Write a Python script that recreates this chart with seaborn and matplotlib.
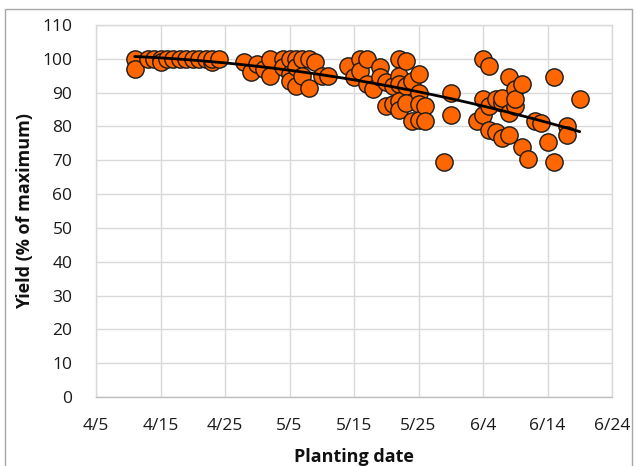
import numpy as np
import pandas as pd
import matplotlib
matplotlib.use("Agg")
import matplotlib.pyplot as plt
import seaborn as sns
from matplotlib.patches import Rectangle

# ---- data ----
plant_dates = [
    "4/11", "4/11", "4/13", "4/14", "4/15", "4/15", "4/16", "4/17", "4/18", "4/19",
    "4/20", "4/21", "4/22", "4/23", "4/23", "4/24",
    "4/28", "4/29", "4/30", "5/1", "5/2", "5/2",
    "5/4", "5/4", "5/5", "5/5", "5/5", "5/6", "5/6", "5/6",
    "5/7", "5/7", "5/8", "5/8", "5/9", "5/10", "5/11",
    "5/14", "5/15", "5/16", "5/16", "5/17", "5/17", "5/18",
    "5/19", "5/19", "5/20", "5/20", "5/21", "5/21",
    "5/22", "5/22", "5/22", "5/22", "5/22",
    "5/23", "5/23", "5/23", "5/24", "5/24",
    "5/25", "5/25", "5/25", "5/25", "5/26", "5/26",
    "5/29", "5/30", "5/30", "6/3",
    "6/4", "6/4", "6/4", "6/5", "6/5", "6/5", "6/6", "6/6",
    "6/7", "6/7", "6/7", "6/8", "6/8", "6/8", "6/9", "6/9", "6/9",
    "6/10", "6/10", "6/11", "6/12", "6/13", "6/14", "6/15", "6/15",
    "6/17", "6/17", "6/19",
]
yields = [
    100, 97, 100, 100, 100, 99, 100, 100, 100, 100,
    100, 100, 100, 99, 100, 100,
    99, 96, 98.5, 97, 95, 100,
    100, 97.5, 100, 95.5, 93.5, 100, 97.5, 92,
    100, 95, 100, 91.5, 99, 95, 95,
    98, 94.5, 100, 96.5, 100, 92.5, 91,
    97.5, 94.5, 93, 86, 92, 86.5,
    100, 95, 92.5, 87.5, 85,
    99.5, 92, 87, 93.5, 81.5,
    95.5, 90, 86.5, 82, 86, 81.5,
    69.5, 90, 83.5, 81.5,
    100, 88, 83.5, 98, 86, 79, 88, 78.5,
    87, 88.5, 76.5, 94.5, 77.5, 84, 86, 91, 88,
    92.5, 74, 70.5, 81.5, 81, 75.5, 94.5, 69.5,
    80, 77.5, 88,
]
tick_labels = ["4/5", "4/15", "4/25", "5/5", "5/15", "5/25", "6/4", "6/14", "6/24"]
y_ticks = list(range(0, 111, 10))
x_title = "Planting date"
y_title = "Yield (% of maximum)"

# ---- prepare ----
origin = pd.Timestamp("2021-04-05")
def to_day(s):
    return (pd.to_datetime("2021/" + s, format="%Y/%m/%d") - origin).days

df = pd.DataFrame({"day": [to_day(d) for d in plant_dates], "yield": yields})
tick_pos = [to_day(t) for t in tick_labels]

sns.set_theme(style="white")
plt.rcParams["font.family"] = ["Open Sans", "DejaVu Sans"]

fig = plt.figure(figsize=(6.37, 4.66), dpi=100)
ax = fig.add_axes([96 / 637, 1 - 397 / 466, (612 - 96) / 637, (397 - 25) / 466])

sns.scatterplot(data=df, x="day", y="yield", ax=ax, s=155, color="#FF6600",
                edgecolor="#1a1a1a", linewidth=1.0, zorder=3, legend=False)
sns.regplot(data=df, x="day", y="yield", ax=ax, order=2, ci=None, scatter=False,
            truncate=True, line_kws=dict(color="black", lw=2.0, zorder=4))

ax.set_xlim(tick_pos[0], tick_pos[-1])
ax.set_ylim(0, 110)
ax.set_xticks(tick_pos)
ax.set_xticklabels(tick_labels)
ax.set_yticks(y_ticks)
ax.set_yticklabels([str(v) for v in y_ticks])
ax.tick_params(axis="both", length=0, labelsize=12.5, colors="#1a1a1a")
ax.tick_params(axis="y", pad=17)
ax.tick_params(axis="x", pad=15)
ax.grid(True, color="#d9d9d9", lw=1.0)
ax.set_axisbelow(True)
for side in ["top", "right", "left"]:
    ax.spines[side].set_color("#d9d9d9")
    ax.spines[side].set_linewidth(1.0)
ax.spines["bottom"].set_color("#bfbfbf")
ax.spines["bottom"].set_linewidth(1.0)

ax.set_xlabel(x_title, fontsize=13, fontweight="bold", color="#111111", labelpad=10)
ax.set_ylabel(y_title, fontsize=13, fontweight="bold", color="#111111", labelpad=6)

# chart-area border
fig.patches.append(Rectangle((5 / 637, -0.05), (632 - 5) / 637, 1.05 - 9 / 466,
                             transform=fig.transFigure, fill=False,
                             edgecolor="#a6a6a6", lw=1.0))

fig.savefig("out.png", dpi=100)
